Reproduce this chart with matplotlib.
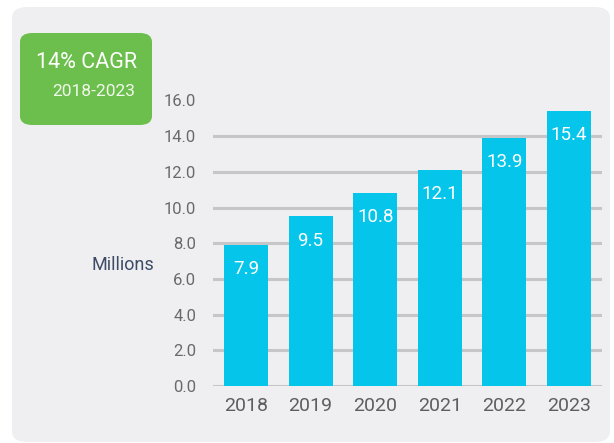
from matplotlib import pyplot as plt
from matplotlib.patches import FancyBboxPatch

years = ["2018", "2019", "2020", "2021", "2022", "2023"]
values = [7.9, 9.5, 10.8, 12.1, 13.9, 15.4]
yticks = [0, 2, 4, 6, 8, 10, 12, 14, 16]

plt.rcParams['font.family'] = ['Roboto', 'DejaVu Sans']

W, H = 614, 443
fig = plt.figure(figsize=(W / 100, H / 100), dpi=100)
fig.patch.set_facecolor("white")

# light grey card behind everything
card = FancyBboxPatch((12 / W, 1 - 442 / H), (610 - 12) / W, (442 - 7) / H,
                      boxstyle="round,pad=0,rounding_size=0.025",
                      transform=fig.transFigure, facecolor="#efeff1",
                      edgecolor="none", zorder=-5)
fig.patches.append(card)

# green CAGR badge
badge = FancyBboxPatch((20 / W, 1 - 125 / H), (152 - 20) / W, (125 - 33) / H,
                       boxstyle="round,pad=0,rounding_size=0.02",
                       transform=fig.transFigure, facecolor="#6cbf4c",
                       edgecolor="none", zorder=1)
fig.patches.append(badge)
fig.text(86 / W, 1 - 63 / H, "14% CAGR", color="white", fontsize=15.5,
         ha="center", va="center")
fig.text(94 / W, 1 - 91 / H, "2018-2023", color="#f0f8ec", fontsize=12.5,
         ha="center", va="center")

ax = fig.add_axes([213 / W, 57 / H, (602 - 213) / W, (386 - 100.4) / H])
ax.set_facecolor("none")
x = range(len(years))
bars = ax.bar(x, values, width=0.68, color="#05c6ea", zorder=3)
for b, v in zip(bars, values):
    ax.text(b.get_x() + b.get_width() / 2, v - 0.85, f"{v:.1f}",
            ha="center", va="top", color="white", fontsize=13.5, zorder=4)

ax.set_xlim(-0.51, 5.51)
ax.set_ylim(0, 16)
ax.set_yticks(yticks)
ax.set_yticklabels([f"{t:.1f}" for t in yticks])
ax.set_xticks(list(x))
ax.set_xticklabels(years)
for t in yticks[:-1]:
    ax.axhline(t, color="#c6c6c8", linewidth=2.2, zorder=2)
for s in ax.spines.values():
    s.set_visible(False)
ax.tick_params(axis="y", length=0, pad=12, labelsize=12, labelcolor="#6a6a6a")
ax.tick_params(axis="x", length=0, pad=8, labelsize=14, labelcolor="#5e5e5e")

fig.text(123 / W, 1 - 265 / H, "Millions", color="#3d4b66", fontsize=13,
         ha="center", va="center")

fig.savefig("out.png", dpi=100, facecolor=fig.get_facecolor())
